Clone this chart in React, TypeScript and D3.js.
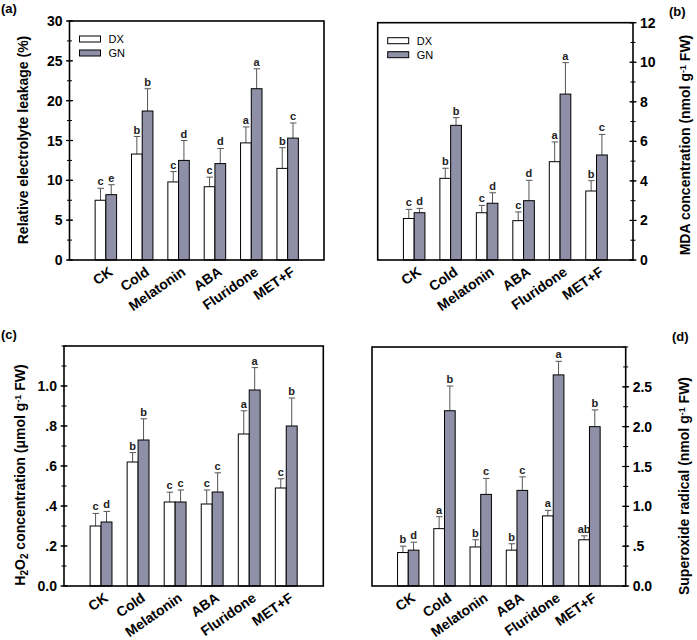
import * as d3 from 'd3';
import { useEffect, useRef } from 'react';

const categories = ['CK', 'Cold', 'Melatonin', 'ABA', 'Fluridone', 'MET+F'];

// (a) relative electrolyte leakage
const leakDX = [7.5, 13.3, 9.8, 9.2, 14.7, 11.5];
const leakDXErr = [1.5, 2.2, 1.3, 1.2, 2.0, 2.6];
const leakGN = [8.2, 18.7, 12.5, 12.1, 21.5, 15.3];
const leakGNErr = [1.25, 2.8, 2.5, 1.9, 2.5, 1.9];
const leakDXLetters = ['c', 'b', 'c', 'c', 'a', 'b'];
const leakGNLetters = ['e', 'b', 'd', 'd', 'a', 'c'];
const leakTicks = [0, 5, 10, 15, 20, 25, 30];
const leakTickLabels = ['0', '5', '10', '15', '20', '25', '30'];

// (b) MDA
const mdaDX = [2.1, 4.13, 2.39, 1.99, 4.97, 3.49];
const mdaDXErr = [0.46, 0.51, 0.37, 0.44, 1.0, 0.52];
const mdaGN = [2.39, 6.81, 2.87, 3.0, 8.39, 5.31];
const mdaGNErr = [0.22, 0.39, 0.53, 1.03, 1.59, 1.04];
const mdaDXLetters = ['c', 'b', 'c', 'c', 'a', 'b'];
const mdaGNLetters = ['d', 'b', 'd', 'd', 'a', 'c'];
const mdaTicks = [0, 2, 4, 6, 8, 10, 12];
const mdaTickLabels = ['0', '2', '4', '6', '8', '10', '12'];

// (c) H2O2
const h2o2DX = [0.3, 0.62, 0.42, 0.41, 0.76, 0.49];
const h2o2DXErr = [0.063, 0.047, 0.049, 0.07, 0.116, 0.046];
const h2o2GN = [0.32, 0.73, 0.42, 0.47, 0.98, 0.8];
const h2o2GNErr = [0.053, 0.106, 0.06, 0.096, 0.112, 0.14];
const h2o2DXLetters = ['c', 'b', 'c', 'c', 'a', 'c'];
const h2o2GNLetters = ['d', 'b', 'c', 'c', 'a', 'b'];
const h2o2Ticks = [0, 0.2, 0.4, 0.6, 0.8, 1.0];
const h2o2TickLabels = ['0.0', '.2', '.4', '.6', '.8', '1.0'];

// (d) superoxide radical
const supDX = [0.42, 0.72, 0.49, 0.45, 0.88, 0.58];
const supDXErr = [0.08, 0.15, 0.09, 0.08, 0.07, 0.05];
const supGN = [0.45, 2.2, 1.15, 1.2, 2.65, 2.0];
const supGNErr = [0.1, 0.31, 0.2, 0.17, 0.17, 0.21];
const supDXLetters = ['b', 'a', 'b', 'b', 'a', 'ab'];
const supGNLetters = ['d', 'b', 'c', 'c', 'a', 'b'];
const supTicks = [0, 0.5, 1.0, 1.5, 2.0, 2.5];
const supTickLabels = ['0.0', '.5', '1.0', '1.5', '2.0', '2.5'];

const seriesNames = ['DX', 'GN'];

const FONT = 'Arial, "Liberation Sans", sans-serif';
const GN_FILL = '#8f8fa7';
const ERR_COLOR = '#555';

type TitlePart = { text: string; sub?: boolean; sup?: boolean };

function drawPanel(svg, p) {
  const { left, right, top, bottom, max, side } = p;
  const g = svg.append('g');
  const y = d3.scaleLinear().domain([0, max]).range([bottom, top]);
  const x = d3.scalePoint().domain(categories).range([left, right]).padding(1);
  const bw = x.step() * 0.295;

  const axisX = side === 'left' ? left : right;

  // minor + major ticks crossing the axis
  g.selectAll('line.minor')
    .data(d3.range(0, max + 1e-9, p.minor))
    .enter()
    .append('line')
    .attr('x1', axisX - 2.5)
    .attr('x2', axisX + 2.5)
    .attr('y1', (v) => y(v))
    .attr('y2', (v) => y(v))
    .attr('stroke', '#000')
    .attr('stroke-width', 1);

  g.selectAll('line.major')
    .data(p.ticks)
    .enter()
    .append('line')
    .attr('x1', axisX - 3.5)
    .attr('x2', axisX + 3.5)
    .attr('y1', (v) => y(v))
    .attr('y2', (v) => y(v))
    .attr('stroke', '#000')
    .attr('stroke-width', 1.2);

  g.selectAll('text.tick')
    .data(p.ticks)
    .enter()
    .append('text')
    .attr('x', side === 'left' ? axisX - 7 : axisX + 7)
    .attr('y', (v) => y(v))
    .attr('dy', '0.36em')
    .attr('text-anchor', side === 'left' ? 'end' : 'start')
    .style('font-family', FONT)
    .style('font-size', '14px')
    .style('font-weight', 'bold')
    .text((v, i) => p.tickLabels[i]);

  const groups = [
    { vals: p.dx, errs: p.dxErr, letters: p.dxLetters, off: -bw, fill: '#fff' },
    { vals: p.gn, errs: p.gnErr, letters: p.gnLetters, off: 0, fill: GN_FILL },
  ];

  groups.forEach((s) => {
    const cx = (i) => x(categories[i]) + s.off + bw / 2;
    g.selectAll(null)
      .data(s.errs)
      .enter()
      .append('line')
      .attr('x1', (e, i) => cx(i))
      .attr('x2', (e, i) => cx(i))
      .attr('y1', (e, i) => y(s.vals[i]))
      .attr('y2', (e, i) => y(s.vals[i] + e))
      .attr('stroke', ERR_COLOR)
      .attr('stroke-width', 1);
    g.selectAll(null)
      .data(s.errs)
      .enter()
      .append('line')
      .attr('x1', (e, i) => cx(i) - 3)
      .attr('x2', (e, i) => cx(i) + 3.5)
      .attr('y1', (e, i) => y(s.vals[i] + e))
      .attr('y2', (e, i) => y(s.vals[i] + e))
      .attr('stroke', ERR_COLOR)
      .attr('stroke-width', 1);
    g.selectAll(null)
      .data(s.vals)
      .enter()
      .append('rect')
      .attr('x', (v, i) => x(categories[i]) + s.off)
      .attr('y', (v) => y(v))
      .attr('width', bw)
      .attr('height', (v) => bottom - y(v))
      .attr('fill', s.fill)
      .attr('stroke', '#000')
      .attr('stroke-width', 1);
    g.selectAll(null)
      .data(s.letters)
      .enter()
      .append('text')
      .attr('x', (l, i) => cx(i))
      .attr('y', (l, i) => y(s.vals[i] + s.errs[i]) - 3)
      .attr('text-anchor', 'middle')
      .style('font-family', FONT)
      .style('font-size', '11px')
      .style('font-weight', 'bold')
      .style('fill', '#222')
      .text((l) => l);
  });

  // frame
  g.append('rect')
    .attr('x', left)
    .attr('y', top)
    .attr('width', right - left)
    .attr('height', bottom - top)
    .attr('fill', 'none')
    .attr('stroke', '#000')
    .attr('stroke-width', 1.6);

  // category labels
  g.selectAll(null)
    .data(categories)
    .enter()
    .append('text')
    .attr('text-anchor', 'end')
    .attr('transform', (c) => `translate(${x(c) + 8},${bottom + 14}) rotate(-35)`)
    .style('font-family', FONT)
    .style('font-size', '14px')
    .style('font-weight', 'bold')
    .text((c) => c);

  // axis title
  const title = g.append('text')
    .attr('transform', `translate(${p.titleX},${p.titleY}) rotate(-90)`)
    .attr('text-anchor', 'middle')
    .style('font-family', FONT)
    .style('font-size', '14px')
    .style('font-weight', 'bold');
  p.title.forEach((part: TitlePart) => {
    const span = title.append('tspan').text(part.text);
    if (part.sub) span.attr('baseline-shift', '-25%').style('font-size', '10px');
    if (part.sup) span.attr('baseline-shift', '45%').style('font-size', '9px');
  });

  // panel label
  svg.append('text')
    .attr('x', p.labelX)
    .attr('y', p.labelY)
    .style('font-family', FONT)
    .style('font-size', '13px')
    .style('font-weight', 'bold')
    .text(p.label);

  if (p.legend) {
    const lx = left + 10;
    seriesNames.forEach((name, i) => {
      const ly = top + 15 + i * 14;
      g.append('rect')
        .attr('x', lx)
        .attr('y', ly)
        .attr('width', 21)
        .attr('height', 6)
        .attr('fill', i === 0 ? '#fff' : GN_FILL)
        .attr('stroke', '#000')
        .attr('stroke-width', 1);
      g.append('text')
        .attr('x', lx + 29)
        .attr('y', ly + 3)
        .attr('dy', '0.36em')
        .style('font-family', FONT)
        .style('font-size', '11px')
        .text(name);
    });
  }
}

export default function App() {
  const ref = useRef(null);

  useEffect(() => {
    const svg = d3.select(ref.current);
    svg.selectAll('*').remove();
    svg.append('rect').attr('width', 697).attr('height', 640).attr('fill', '#fff');

    drawPanel(svg, {
      left: 69.5, right: 324, top: 21, bottom: 260, max: 30, minor: 2.5, side: 'left',
      ticks: leakTicks, tickLabels: leakTickLabels,
      dx: leakDX, dxErr: leakDXErr, dxLetters: leakDXLetters,
      gn: leakGN, gnErr: leakGNErr, gnLetters: leakGNLetters,
      title: [{ text: 'Relative electrolyte leakage (%)' }],
      titleX: 28, titleY: 140, label: '(a)', labelX: 1, labelY: 13, legend: true,
    });
    drawPanel(svg, {
      left: 377.7, right: 633, top: 22.7, bottom: 260, max: 12, minor: 1, side: 'right',
      ticks: mdaTicks, tickLabels: mdaTickLabels,
      dx: mdaDX, dxErr: mdaDXErr, dxLetters: mdaDXLetters,
      gn: mdaGN, gnErr: mdaGNErr, gnLetters: mdaGNLetters,
      title: [{ text: 'MDA concentration (nmol g' }, { text: '-1', sup: true }, { text: ' FW)' }],
      titleX: 690, titleY: 145, label: '(b)', labelX: 669, labelY: 16, legend: true,
    });
    drawPanel(svg, {
      left: 64, right: 323.3, top: 346, bottom: 586, max: 1.2, minor: 0.1, side: 'left',
      ticks: h2o2Ticks, tickLabels: h2o2TickLabels,
      dx: h2o2DX, dxErr: h2o2DXErr, dxLetters: h2o2DXLetters,
      gn: h2o2GN, gnErr: h2o2GNErr, gnLetters: h2o2GNLetters,
      title: [
        { text: 'H' }, { text: '2', sub: true }, { text: 'O' }, { text: '2', sub: true },
        { text: ' concentration (\u03bcmol g' }, { text: '-1', sup: true }, { text: ' FW)' },
      ],
      titleX: 25, titleY: 475, label: '(c)', labelX: 1, labelY: 339, legend: false,
    });
    drawPanel(svg, {
      left: 372, right: 625.7, top: 347, bottom: 586, max: 3, minor: 0.25, side: 'right',
      ticks: supTicks, tickLabels: supTickLabels,
      dx: supDX, dxErr: supDXErr, dxLetters: supDXLetters,
      gn: supGN, gnErr: supGNErr, gnLetters: supGNLetters,
      title: [{ text: 'Superoxide radical (nmol g' }, { text: '-1', sup: true }, { text: ' FW)' }],
      titleX: 689, titleY: 486, label: '(d)', labelX: 672, labelY: 341, legend: false,
    });

    return () => {
      svg.selectAll('*').remove();
    };
  }, []);

  return (
    <svg
      ref={ref}
      width={697}
      height={640}
      style={{ position: 'absolute', left: 0, top: 0 }}
      role="img"
      aria-label="Electrolyte leakage, MDA, H2O2 and superoxide under treatments"
    />
  );
}
